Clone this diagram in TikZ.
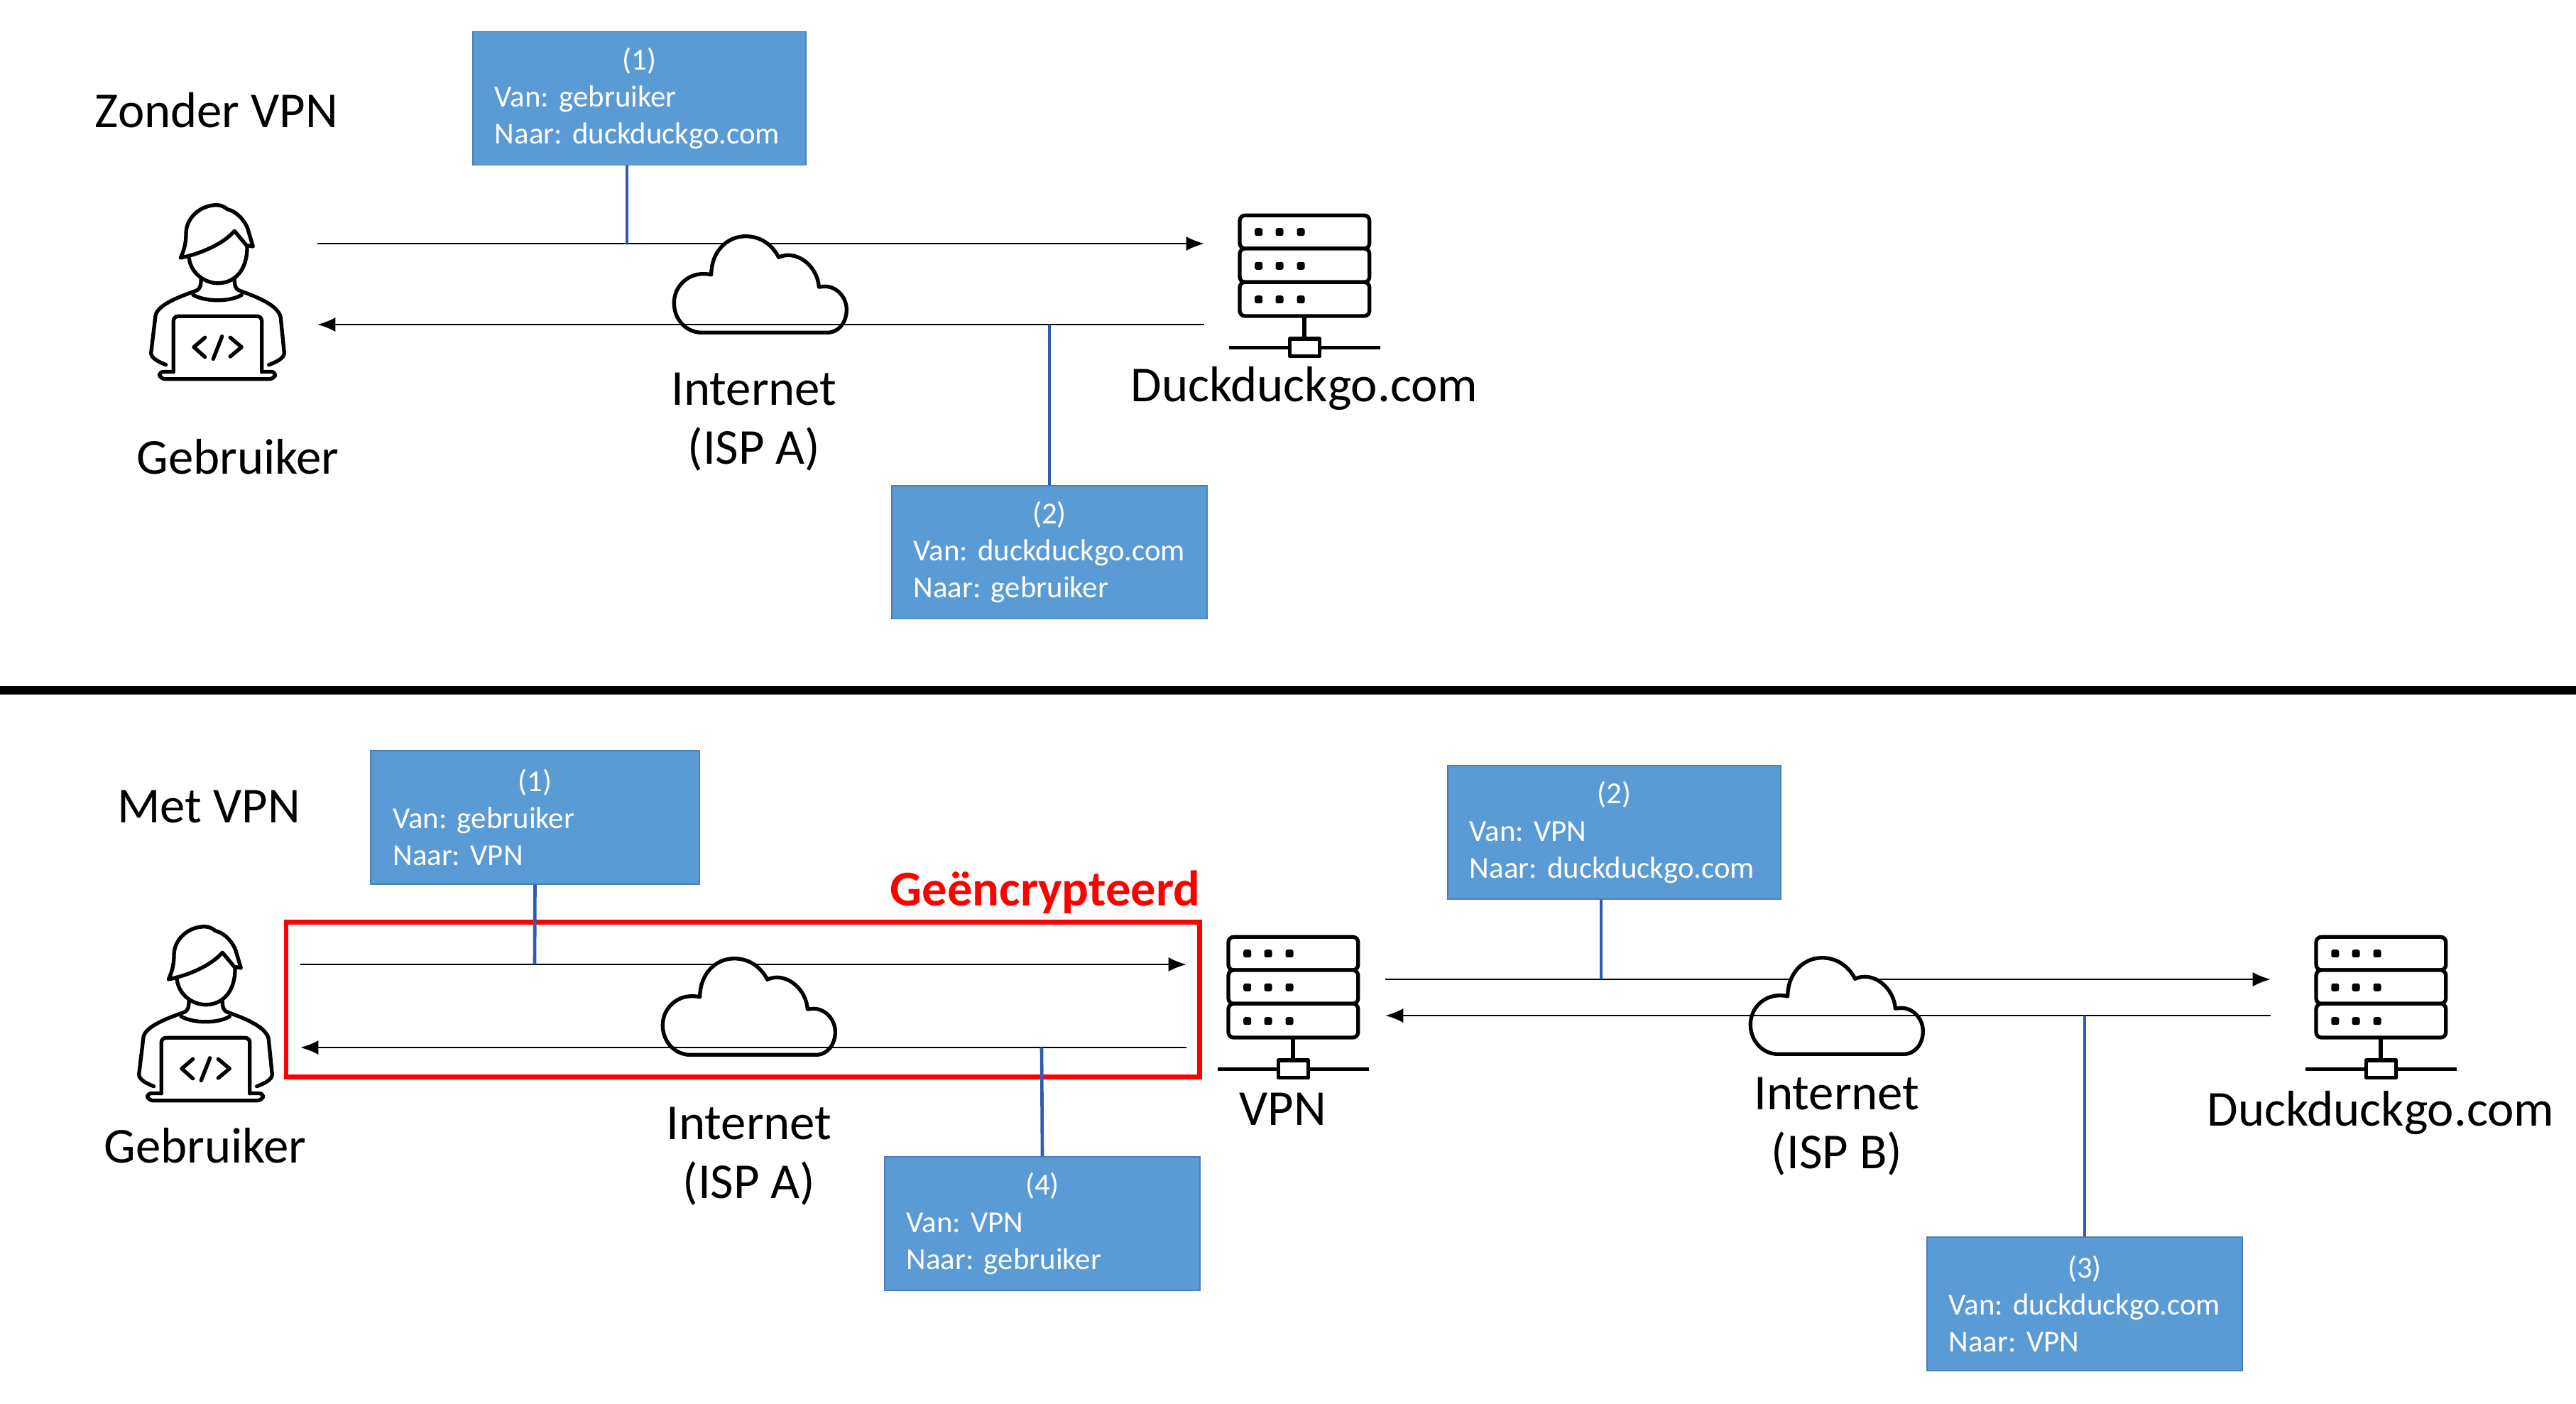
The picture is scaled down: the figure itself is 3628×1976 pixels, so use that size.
\documentclass[tikz,border=0pt]{standalone}
\usepackage{fontspec}
\setmainfont{Carlito}
\usetikzlibrary{arrows.meta,positioning,calc}
\definecolor{boxblue}{HTML}{5B9BD5}
\definecolor{boxedge}{HTML}{4A7EB5}
\definecolor{linkblue}{HTML}{2F5CB0}
\frenchspacing
\newcommand{\msgtext}[3]{\makebox[\hsize][c]{(#1)}\\#2\\#3}
\tikzset{
icon/.style={line width=1.15pt,line join=round,line cap=round},
servericon/.pic={
\foreach \yy/\ye in {-66.7/-20,-20/27.3,27.3/75}
  \draw[icon,fill=white,rounded corners=1.6pt] (-91,\yy) rectangle (91.7,\ye);
\foreach \yd in {-43.3,4.3,51.7}
  \foreach \xd in {-64.3,-35,-5}
    \fill[rounded corners=0.6pt] (\xd-5.5,\yd-5.5) rectangle (\xd+5.5,\yd+5.5);
\draw[icon] (0,75) -- (0,107);
\draw[icon,fill=white,line cap=butt] (-20.7,107) rectangle (21.7,131.7);
\draw[icon,line cap=butt] (-106,119.3) -- (-20.7,119.3) (21.7,119.3) -- (106.7,119.3);
},
usericon/.pic={
\draw[icon] (-40.7,-53.3) .. controls (-38.3,-33.3) and (-20,-18.3) .. (0,-18.3)
  .. controls (23.3,-18.3) and (41.7,-36.7) .. (41,-70);
\draw[icon] (-52.7,-54) .. controls (-46.7,-66.7) and (-45,-76.7) .. (-45,-88.3)
  .. controls (-45,-110) and (-25,-128.3) .. (-1.7,-128.3)
  .. controls (5,-128.3) and (10,-125) .. (13.3,-122.3)
  .. controls (30,-118.3) and (41.7,-100) .. (43.3,-90)
  -- (49.3,-70) -- (40,-71.7) -- (23.3,-91.7)
  .. controls (6.7,-73.3) and (-23.3,-60) .. (-52.7,-54) -- cycle;
\draw[icon] (-24,-23.3) .. controls (-24,-16.7) and (-24,-10) .. (-31.7,-7.3)
  .. controls (-56.7,1.7) and (-88.3,13.3) .. (-88.3,30)
  -- (-94.3,80) .. controls (-94,87) and (-85,92) .. (-73.3,96.7);
\draw[icon] (23.3,-23.3) .. controls (23.3,-16.7) and (23.3,-10) .. (31.7,-7.3)
  .. controls (56.7,1.7) and (85,13.3) .. (88.3,30)
  -- (93.3,80) .. controls (93,87) and (84,92) .. (71.7,96.7);
\draw[icon] (-35,-1.7) .. controls (-16.7,8.3) and (16.7,8.3) .. (33.3,-1.7);
\draw[icon,rounded corners=1.4pt] (-62.7,106.7) -- (-62.7,28.3) -- (61.7,28.3) -- (61.7,106.7);
\draw[icon,rounded corners=1.4pt] (-62.7,106.5) -- (-83.3,106.5) -- (-81,116.7) -- (79,116.7) -- (81.7,106.5) -- (61.7,106.5);
\draw[icon] (-18.3,58.3) -- (-34,71.7) -- (-18.3,85.7);
\draw[icon] (5.7,56.7) -- (-6.7,88.3);
\draw[icon] (17.3,58.3) -- (33.3,71.7) -- (17.3,85);
},
cloudicon/.pic={
\draw[icon,fill=white] (-61.7,68.3) -- (115,68.3)
  .. controls (131.7,68.3) and (142.3,53.3) .. (142.3,36)
  .. controls (142.3,18.3) and (128.3,3.3) .. (111.7,3.3) -- (103.3,4)
  .. controls (101.7,-20) and (81.7,-40.7) .. (60,-40.7)
  .. controls (55,-40.7) and (50,-39.3) .. (46.7,-37.7)
  .. controls (36.7,-56.7) and (20,-67.3) .. (0,-67.3)
  .. controls (-26.7,-67.3) and (-48.3,-45) .. (-48.3,-13.3)
  .. controls (-51.7,-14) and (-55,-14.3) .. (-60,-14.3)
  .. controls (-81.7,-14.3) and (-100.7,3.3) .. (-100.7,26.7)
  .. controls (-100.7,50) and (-83.3,68.3) .. (-61.7,68.3) -- cycle;
}}
\begin{document}
\begin{tikzpicture}
 [x=0.2161pt,y=-0.2161pt,
 flow/.style={-{Latex[length=5.5pt,width=4.4pt]},line width=0.6pt,black},
 link/.style={line width=1pt,linkblue},
 msgbox/.style={fill=boxblue,draw=boxedge,line width=0.4pt,text=white,align=left,inner xsep=6.7pt,
   inner ysep=0pt,text width=#1,minimum height=40.6pt,font=\fontsize{9.25}{11.25}\selectfont},
 label/.style={align=center,font=\fontsize{15.3}{18}\selectfont},
 ]
\useasboundingbox (0,0) rectangle (3628,1976);

\node (zonder) at (305,155)[label] {Zonder VPN};
\node (met) at (294,1136)[label] {Met VPN};

\coordinate (a1s) at (447,343);
\coordinate (a1e) at (1696,343);
\coordinate (a2s) at (1696,457);
\coordinate (a2e) at (447,457);
\coordinate (l1) at (883,343);
\coordinate (l2) at (1478,457);

\draw[flow] (a1s) -- (a1e);
\pic (cloud1) at (1050,400) {cloudicon};
\draw[flow] (a2s) -- (a2e);
\pic (user1) at (307,417) {usericon};
\pic (srv1) at (1837,370) {servericon};

\node (gebr1) at (335,643)[label] {Gebruiker};
\node (inet1) at (1062,594)[label] {Internet\\(ISP A)};
\node (duck1) at (1837,547)[label] {Duckduckgo.com};

\node (m1) at (900.5,138.5)[msgbox=88pt] {\msgtext{1}{Van: gebruiker}{Naar: duckduckgo.com}};
\node (m2) at (1478,777.5)[msgbox=82.7pt] {\msgtext{2}{Van: duckduckgo.com}{Naar: gebruiker}};
\draw[link] (l1 |- m1.south) -- (l1);
\draw[link] (m2.north) -- (l2);

\coordinate (sepl) at (0,972);
\coordinate (sepr) at (3628,972);
\draw[line width=2.6pt] (sepl) -- (sepr);

\coordinate (b1s) at (423,1358);
\coordinate (b1e) at (1671,1358);
\coordinate (b2s) at (1671,1475);
\coordinate (b2e) at (423,1475);
\coordinate (l3) at (753,1358);
\coordinate (l4) at (1467,1475);

\draw[flow] (b1s) -- (b1e);
\pic (cloud2) at (1034,1417) {cloudicon};
\draw[flow] (b2s) -- (b2e);
\pic (user2) at (290,1433) {usericon};
\pic (srv2) at (1821,1386) {servericon};

\node (encr) at (403,1298)[minimum width=0pt,inner sep=0pt] {};
\node (encr2) at (1689,1516)[minimum width=0pt,inner sep=0pt] {};
\draw[red,line width=1.5pt] (encr) rectangle (encr2);
\node (geenc) at (1472,1256)[text=red,font=\fontsize{15.25}{18}\selectfont\bfseries] {Geëncrypteerd};

\node (gebr2) at (289,1613)[label] {Gebruiker};
\node (inet2) at (1055,1628)[label] {Internet\\(ISP A)};
\node (vpn) at (1807,1562)[label] {VPN};

\coordinate (c1s) at (1951,1379);
\coordinate (c1e) at (3198,1379);
\coordinate (c2s) at (3198,1430);
\coordinate (c2e) at (1951,1430);
\coordinate (l5) at (2255,1379);
\coordinate (l6) at (2936,1430);

\draw[flow] (c1s) -- (c1e);
\pic (cloud3) at (2566,1416) {cloudicon};
\draw[flow] (c2s) -- (c2e);
\pic (srv3) at (3353,1386) {servericon};

\node (inet3) at (2587,1586)[label] {Internet\\(ISP B)};
\node (duck2) at (3353,1567)[label] {Duckduckgo.com};

\node (n1) at (753.5,1151)[msgbox=86.5pt] {\msgtext{1}{Van: gebruiker}{Naar: VPN}};
\node (n2) at (2273.5,1172)[msgbox=88pt] {\msgtext{2}{Van: VPN}{Naar: duckduckgo.com}};
\node (n3) at (1468,1723)[msgbox=82.7pt] {\msgtext{4}{Van: VPN}{Naar: gebruiker}};
\node (n4) at (2936,1836)[msgbox=82.7pt] {\msgtext{3}{Van: duckduckgo.com}{Naar: VPN}};
\draw[link] (n1.south) -- (l3);
\draw[link] (l5 |- n2.south) -- (l5);
\draw[link] (n3.north) -- (l4);
\draw[link] (n4.north) -- (l6);
\end{tikzpicture}
\end{document}
